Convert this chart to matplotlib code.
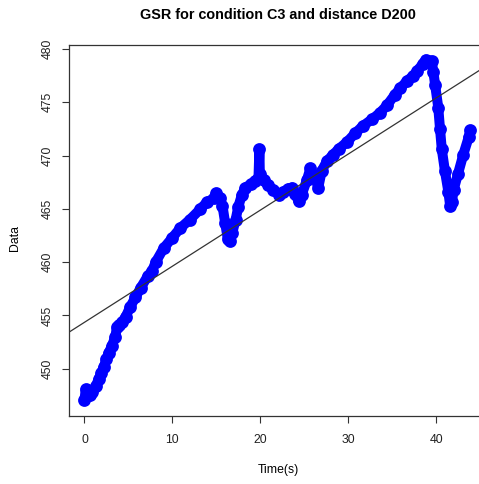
import matplotlib
matplotlib.use("Agg")
import matplotlib.pyplot as plt
import numpy as np

plt.rcParams['font.family'] = ['Liberation Sans', 'DejaVu Sans']

title = "GSR for condition C3 and distance D200"
x_label = "Time(s)"
y_label = "Data"

time_s = [0.0, 0.15, 0.3, 0.6, 0.9, 1.3, 1.6, 1.9, 2.2, 2.5, 2.75, 3.1, 3.5, 3.7, 3.9,
          4.3, 4.7, 5.2, 5.8, 6.4, 7.2, 7.7, 8.1, 9.0, 10.0, 10.9, 12.0, 13.2, 13.9,
          14.7, 15.0, 15.4, 15.7, 16.0, 16.3, 16.5, 16.8, 17.2, 17.5, 17.9, 18.3,
          18.9, 19.4, 19.8, 19.9, 19.95, 20.4, 20.9, 21.5, 22.1, 22.6, 23.2, 23.6,
          24.0, 24.35, 24.7, 25.3, 25.7, 26.2, 26.6, 27.0, 27.6, 28.3, 28.9, 29.9,
          30.8, 31.7, 32.7, 33.6, 34.4, 35.3, 35.9, 36.7, 37.4, 37.8, 38.5, 38.8,
          39.5, 39.7, 39.9, 40.25, 40.45, 40.65, 41.0, 41.4, 41.6, 41.8, 42.0, 42.5,
          43.1, 43.7, 43.9]
gsr = [447.1, 448.1, 447.4, 447.5, 447.8, 448.4, 449.0, 449.6, 450.2, 450.9, 451.5,
       452.1, 453.0, 453.9, 454.1, 454.4, 454.9, 455.8, 456.7, 457.6, 458.7, 459.2,
       460.0, 461.3, 462.3, 463.2, 464.0, 465.0, 465.6, 466.0, 466.5, 466.0, 465.3,
       463.7, 462.2, 462.0, 462.7, 464.0, 465.2, 466.3, 467.0, 467.3, 467.6, 468.0,
       470.6, 468.3, 467.7, 467.2, 466.8, 466.3, 466.6, 466.9, 467.0, 466.4, 465.7,
       466.3, 467.7, 468.8, 468.0, 467.0, 468.6, 469.5, 470.1, 470.6, 471.3, 472.1,
       472.8, 473.4, 474.0, 474.7, 475.7, 476.3, 477.0, 477.5, 477.9, 478.6, 479.0,
       478.9, 477.8, 476.6, 474.5, 472.5, 470.6, 468.6, 466.6, 465.3, 465.6, 466.8,
       468.3, 470.1, 471.7, 472.4]

fit_intercept = 454.36
fit_slope = 0.526

x_ticks = [0, 10, 20, 30, 40]
y_ticks = [450, 455, 460, 465, 470, 475, 480]

W, H = 479, 484
fig = plt.figure(figsize=(W / 100, H / 100), dpi=100)
left_px, right_px, top_px, bottom_px = 69, 486.7, 45, 416
ax = fig.add_axes([left_px / W, 1 - bottom_px / H,
                   (right_px - left_px) / W, (bottom_px - top_px) / H])

ax.plot(time_s, gsr, color='blue', lw=7.2, solid_capstyle='round',
        solid_joinstyle='round', marker='o', ms=8, mfc='blue', mec='blue', mew=1.2)

xlim = (-1.76, 45.76)
ax.set_xlim(xlim)
ax.set_ylim(445.57, 480.375)
xx = np.array(xlim)
ax.plot(xx, fit_intercept + fit_slope * xx, color='#333333', lw=0.9)

ax.set_xticks(x_ticks)
ax.set_yticks(y_ticks)
ax.tick_params(axis='both', direction='out', length=5, width=0.8, color='#333333',
               labelsize=8.8, labelcolor='#222222')
ax.tick_params(axis='x', pad=8)
ax.tick_params(axis='y', pad=6)
for lab in ax.get_yticklabels():
    lab.set_rotation(90)
    lab.set_va('center')
for s in ax.spines.values():
    s.set_color('#333333')
    s.set_linewidth(0.9)

fig.text(278 / W, 1 - 15 / H, title, ha='center', va='center',
         fontsize=10.4, fontweight='bold')
fig.text(278 / W, 1 - 470 / H, x_label, ha='center', va='center', fontsize=8.8)
fig.text(15 / W, 1 - 238 / H, y_label, ha='center', va='center', fontsize=8.8,
         rotation=90)

fig.savefig("out.png", dpi=100)
